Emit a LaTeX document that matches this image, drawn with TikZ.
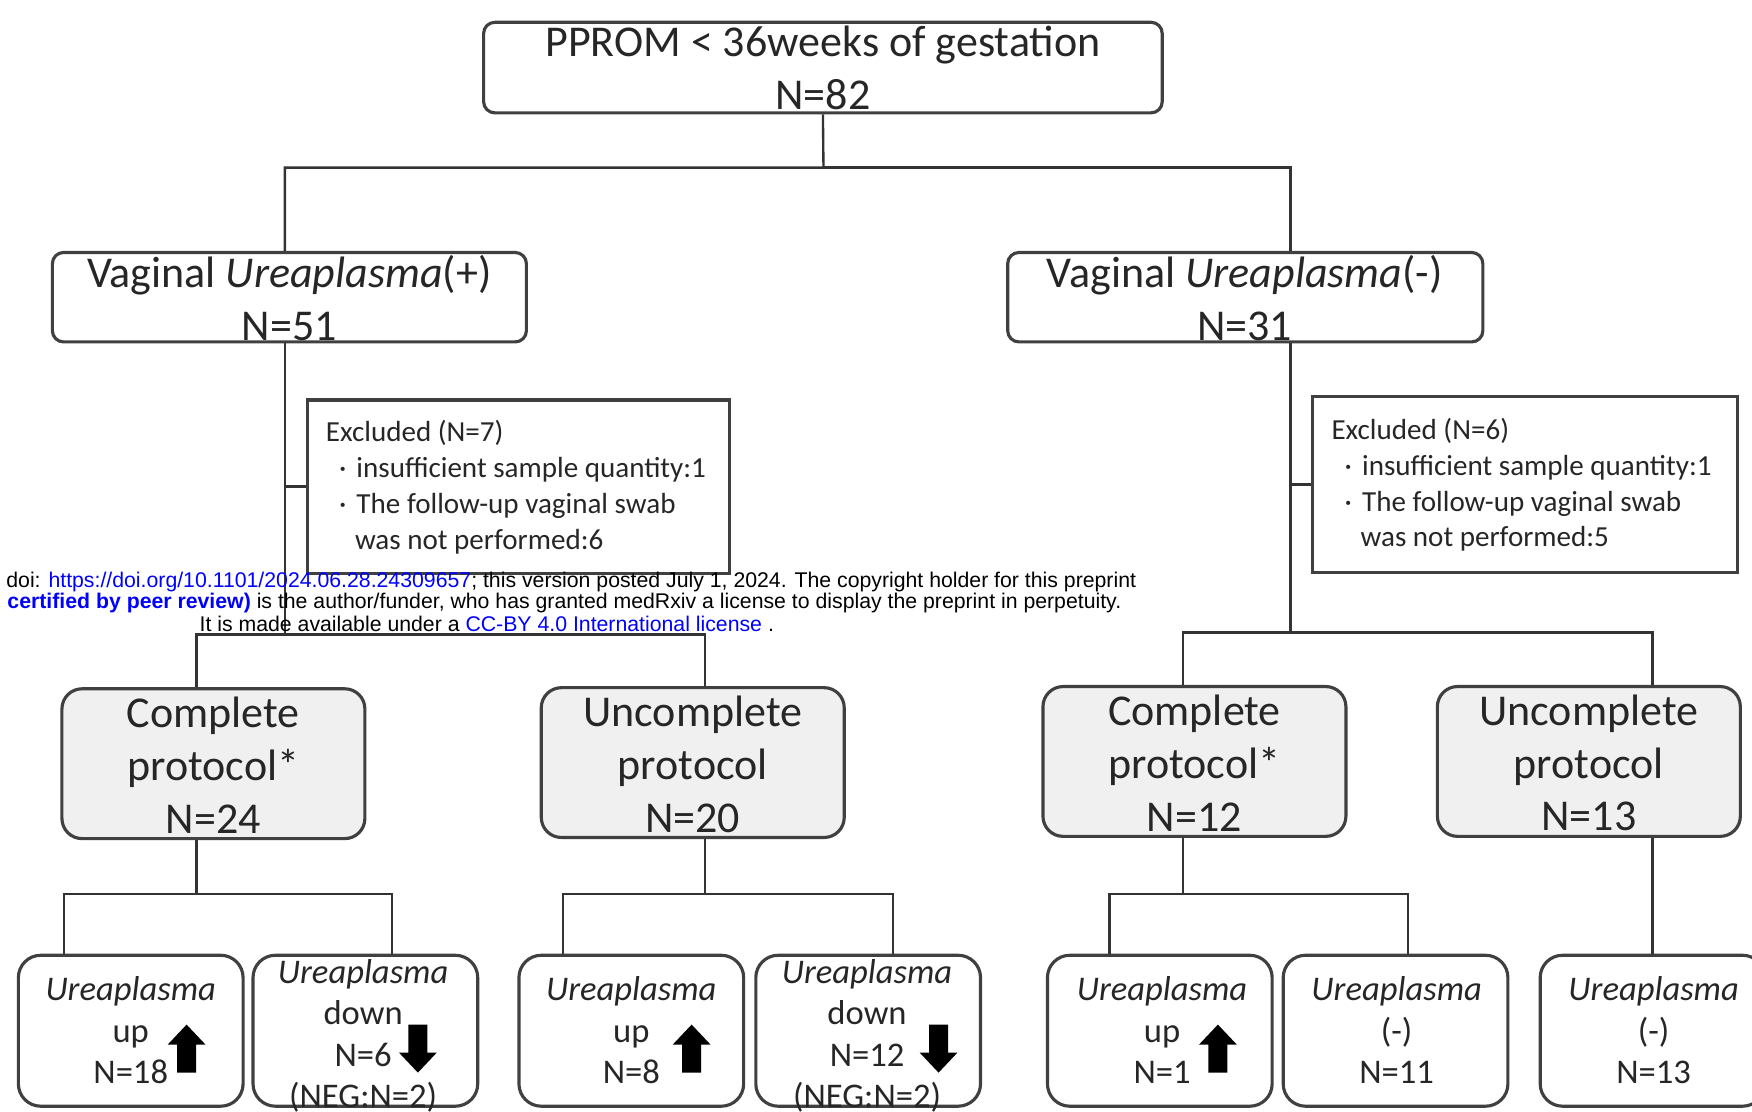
\documentclass[tikz,border=0pt]{standalone}
\usepackage{fontspec}
\setmainfont{Carlito}
\newfontfamily\wmfont{Liberation Sans}
\newcommand{\thickup}[1]{\fill[arrowfill] (#1) -- ++(17,18) -- ++(-8.5,0) -- ++(0,25) -- ++(-17,0) -- ++(0,-25) -- ++(-8.5,0) -- cycle;}
\newcommand{\thickdown}[1]{\fill[arrowfill] (#1) -- ++(17,-18) -- ++(-8.5,0) -- ++(0,-25) -- ++(-17,0) -- ++(0,25) -- ++(-8.5,0) -- cycle;}
\newcommand{\bul}{\hspace*{0.45em}\textperiodcentered\hspace{0.35em}}
\begin{document}
\begin{tikzpicture}[x=0.01cm, y=-0.01cm,
    link/.style={draw=black!80, line width=0.6pt},
    framed/.style={draw=black!75, line width=0.8pt, inner sep=0pt},
    topbox/.style={framed, rounded corners=0.1cm},
    exclbox/.style={framed},
    protobox/.style={framed, rounded corners=0.18cm, fill=protofill, minimum width=2.71cm, minimum height=1.34cm},
    resbox/.style={framed, rounded corners=0.2cm, minimum width=\reswidth, minimum height=\resheight},
    bigtext/.style={align=center, inner sep=0pt, text=black!85, font=\fontsize{11.2}{13.4}\selectfont},
    smalltext/.style={align=center, inner sep=0pt, text=black!85, font=\fontsize{8.8}{10.5}\selectfont},
    excltext/.style={align=left, anchor=west, inner sep=0pt, text=black!85, font=\fontsize{7.4}{9.1}\selectfont},
    wmtext/.style={anchor=base west, inner sep=0pt, font=\wmfont\fontsize{5.41}{6}\selectfont},
    arrowfill/.style={fill=black}]
    \definecolor{protofill}{RGB}{240, 240, 240}
    \definecolor{linkblue}{RGB}{0, 0, 255}
    \def\reswidth{2.01cm}
    \def\resheight{1.35cm}
    \useasboundingbox (0,0) rectangle (1568,995);

    \node[topbox, minimum width=6.07cm, minimum height=0.81cm] (root) at (736.5,60.5) {};
    \node[topbox, minimum width=4.24cm, minimum height=0.80cm] (upos) at (259,266) {};
    \node[topbox, minimum width=4.25cm, minimum height=0.80cm] (uneg) at (1114.5,266) {};
    \node[exclbox, minimum width=3.78cm, minimum height=1.55cm] (exclpos) at (464,435.5) {};
    \node[exclbox, minimum width=3.80cm, minimum height=1.57cm] (exclneg) at (1365,433.5) {};

    \node[protobox] (cpos) at (191,683.5) {};
    \node[protobox] (ipos) at (620,682.5) {};
    \node[protobox] (cneg) at (1069,681.5) {};
    \node[protobox] (ineg) at (1422,681.5) {};

    \node[resbox] (r1) at (117,922.5) {};
    \node[resbox] (r2) at (327,922.5) {};
    \node[resbox] (r3) at (565,922.5) {};
    \node[resbox] (r4) at (777,922.5) {};
    \node[resbox] (r5) at (1038,922.5) {};
    \node[resbox] (r6) at (1249,922.5) {};
    \node[resbox] (r7) at (1479,922.5) {};

    \coordinate (rootsplit) at (737,150);
    \coordinate (possplit) at (255,568);
    \coordinate (negsplit) at (1155,566);
    \coordinate (cposstem) at (176,800);
    \coordinate (iposstem) at (631,800);
    \coordinate (cnegstem) at (1059,800);
    \coordinate (bar1l) at (57,800);
    \coordinate (bar1r) at (351,800);
    \coordinate (bar2l) at (504,800);
    \coordinate (bar2r) at (799,800);
    \coordinate (bar3l) at (993,800);
    \coordinate (bar3r) at (1260,800);

    \draw[link] (root.south) -- (rootsplit) -| (upos.north -| possplit);
    \draw[link] (rootsplit) -| (uneg.north -| negsplit);
    \draw[link] (upos.south -| possplit) -- (possplit);
    \draw[link] (possplit |- exclpos.west) -- (exclpos.west);
    \draw[link] (cpos.north -| cposstem) |- (possplit) -| (ipos.north -| iposstem);
    \draw[link] (uneg.south -| negsplit) -- (negsplit);
    \draw[link] (negsplit |- exclneg.west) -- (exclneg.west);
    \draw[link] (cneg.north -| cnegstem) |- (negsplit) -| (ineg.north -| r7.north);

    \draw[link] (cpos.south -| cposstem) -- (cposstem);
    \draw[link] (r1.north -| bar1l) -- (bar1l) -- (bar1r) -- (r2.north -| bar1r);
    \draw[link] (ipos.south -| iposstem) -- (iposstem);
    \draw[link] (r3.north -| bar2l) -- (bar2l) -- (bar2r) -- (r4.north -| bar2r);
    \draw[link] (cneg.south -| cnegstem) -- (cnegstem);
    \draw[link] (r5.north -| bar3l) -- (bar3l) -- (bar3r) -- (r6.north -| bar3r);
    \draw[link] (ineg.south -| r7.north) -- (r7.north);

    \node[bigtext] (roottext) at (736.5,61) {PPROM < 36weeks of gestation\\N=82};
    \node[bigtext] (upostext) at (259,267) {Vaginal \textit{Ureaplasma}(+)\\N=51};
    \node[bigtext] (unegtext) at (1114,267) {Vaginal \textit{Ureaplasma}(-)\\N=31};
    \node[excltext] (exclpostext) at (291,436) {Excluded (N=7)\\\bul insufficient sample quantity:1\\\bul The follow-up vaginal swab\\\hspace*{1em}was not performed:6};
    \node[excltext] (exclnegtext) at (1191,434) {Excluded (N=6)\\\bul insufficient sample quantity:1\\\bul The follow-up vaginal swab\\\hspace*{1em}was not performed:5};
    \node[bigtext] (cpostext) at (191,685) {Complete\\protocol*\\N=24};
    \node[bigtext] (ipostext) at (620,684) {Uncomplete\\protocol\\N=20};
    \node[bigtext] (cnegtext) at (1069,683) {Complete\\protocol*\\N=12};
    \node[bigtext] (inegtext) at (1422,683) {Uncomplete\\protocol\\N=13};

    \node[smalltext] (r1text) at (117,922) {\textit{Ureaplasma}\\up\\N=18};
    \node[smalltext] (r2text) at (325,927) {\textit{Ureaplasma}\\down\\N=6\\(NEG:N=2)};
    \node[smalltext] (r3text) at (565,922) {\textit{Ureaplasma}\\up\\N=8};
    \node[smalltext] (r4text) at (776,927) {\textit{Ureaplasma}\\down\\N=12\\(NEG:N=2)};
    \node[smalltext] (r5text) at (1040,922) {\textit{Ureaplasma}\\up\\N=1};
    \node[smalltext] (r6text) at (1250,922) {\textit{Ureaplasma}\\(-)\\N=11};
    \node[smalltext] (r7text) at (1480,922) {\textit{Ureaplasma}\\(-)\\N=13};

    \thickup{167,917}
    \thickdown{374,960}
    \thickup{619,917}
    \thickdown{840,960}
    \thickup{1090,917}

    \node[wmtext] (wmdoi) at (5,526) {doi: \textcolor{linkblue}{https://doi.org/10.1101/2024.06.28.24309657}; this version posted July 1, 2024. The copyright holder for this preprint};
    \node[wmtext] (wmcert) at (6,545) {\textcolor{linkblue}{\bfseries certified by peer review)} is the author/funder, who has granted medRxiv a license to display the preprint in perpetuity.};
    \node[wmtext] (wmlic) at (178,565) {It is made available under a \textcolor{linkblue}{CC-BY 4.0 International license} .};
\end{tikzpicture}
\end{document}
